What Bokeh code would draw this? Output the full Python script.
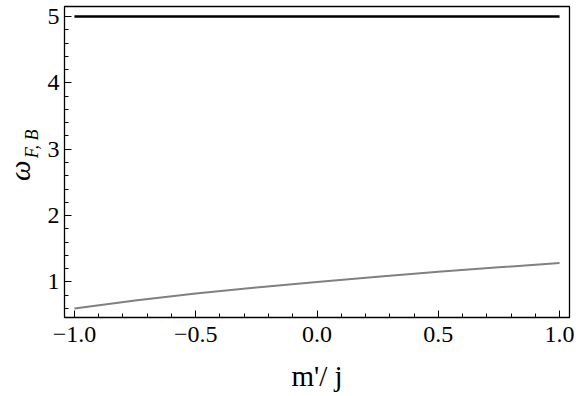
import numpy as np
from bokeh.plotting import figure
from bokeh.layouts import row
from bokeh.models import Range1d, FixedTicker, CustomJSTickFormatter
from bokeh.core.properties import value
from bokeh.embed import file_html
from bokeh.resources import INLINE

# data
m_over_j = [-1.0, -0.75, -0.5, -0.25, 0.0, 0.25, 0.5, 0.75, 1.0]
omega_F = [5.0, 5.0, 5.0, 5.0, 5.0, 5.0, 5.0, 5.0, 5.0]
omega_B = [0.60, 0.72, 0.825, 0.915, 1.0, 1.078, 1.155, 1.22, 1.286]

x_major = [-1.0, -0.5, 0.0, 0.5, 1.0]
x_minor = [round(-1.0 + 0.1 * i, 2) for i in range(21)]
y_major = [1, 2, 3, 4, 5]
y_minor = [round(0.6 + 0.2 * i, 2) for i in range(23)]

y_label_main = "ω"
y_label_sub = "F, B"
x_label = "m'/ j"

SERIF = "Liberation Serif"
LAB_W = 44
H = 396

# narrow panel that carries the rotated y-axis label (omega with subscript)
lab = figure(width=LAB_W, height=H, output_backend="svg", toolbar_location=None,
             x_range=Range1d(0, LAB_W), y_range=Range1d(H, 0),
             x_axis_location=None, y_axis_location=None,
             min_border=0, outline_line_color=None)
lab.grid.visible = False
lab.background_fill_color = "white"
lab.border_fill_color = "white"
lab.text(x=[19.5], y=[209], text=[y_label_main], angle=np.pi / 2,
         text_font=value(SERIF), text_font_style="italic",
         text_font_size="29px", text_align="center",
         text_baseline="middle", text_color="black")
lab.text(x=[31], y=[175], text=[y_label_sub], angle=np.pi / 2,
         text_font=value(SERIF), text_font_style="italic",
         text_font_size="18px", text_align="center",
         text_baseline="middle", text_color="black")

p = figure(width=576 - LAB_W, height=H, output_backend="svg", toolbar_location=None,
           x_range=Range1d(-1.041, 1.041), y_range=Range1d(0.464, 5.15),
           min_border_left=64 - LAB_W, min_border_right=7, min_border_top=6,
           min_border_bottom=79)
p.background_fill_color = "white"
p.border_fill_color = "white"
p.outline_line_color = "black"
p.outline_line_width = 1.3
p.xgrid.visible = False
p.ygrid.visible = False

p.line(m_over_j, omega_F, line_color="black", line_width=2.6)
p.line(m_over_j, omega_B, line_color="#808080", line_width=2.0)

xa = p.xaxis[0]
xa.ticker = FixedTicker(ticks=x_major, minor_ticks=x_minor)
xa.formatter = CustomJSTickFormatter(code="""
    return tick < 0 ? '\\u2212' + (-tick).toFixed(1) : tick.toFixed(1);
""")
ya = p.yaxis[0]
ya.ticker = FixedTicker(ticks=y_major, minor_ticks=y_minor)
ya.formatter = CustomJSTickFormatter(code="return tick.toFixed(0);")

for ax in (xa, ya):
    ax.axis_line_color = None
    ax.major_tick_in = 7
    ax.major_tick_out = 0
    ax.minor_tick_in = 4
    ax.minor_tick_out = 0
    ax.major_tick_line_color = "black"
    ax.minor_tick_line_color = "black"
    ax.major_label_text_font = SERIF
    ax.major_label_text_font_size = "24px"
    ax.major_label_text_color = "black"

xa.major_label_standoff = 9
ya.major_label_standoff = 5
xa.axis_label = x_label
xa.axis_label_text_font = SERIF
xa.axis_label_text_font_style = "normal"
xa.axis_label_text_font_size = "29px"
xa.axis_label_standoff = 15
xa.axis_label_text_color = "black"

layout = row(lab, p, spacing=0)
open("out.html", "w").write(file_html(layout, INLINE))
